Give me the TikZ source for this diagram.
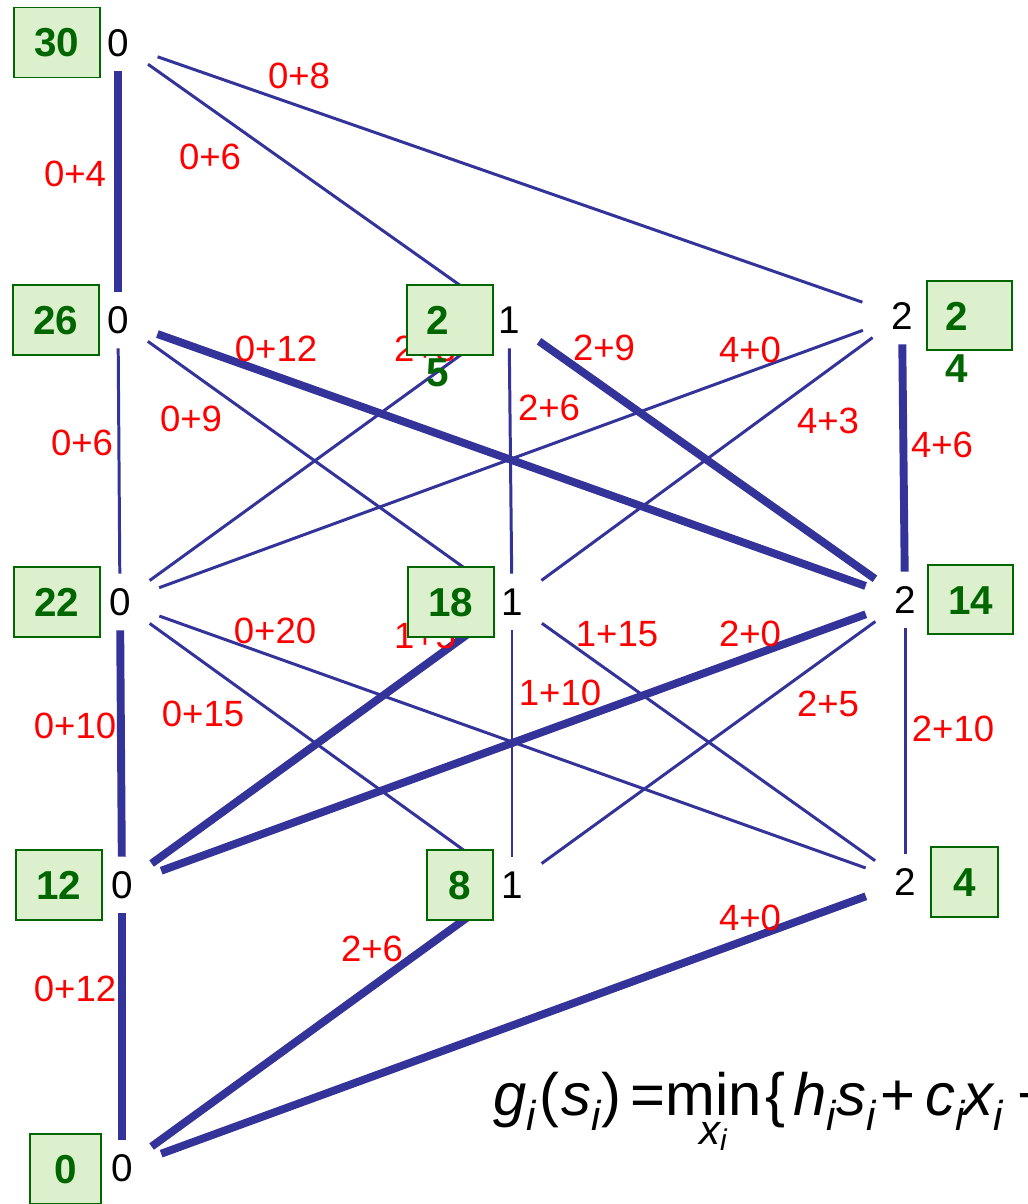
\documentclass[tikz,border=0pt]{standalone}
\usepackage{amsmath}
\usepackage{fontspec}
\setmainfont{Liberation Sans}
\usepackage{tikz}
\usetikzlibrary{shapes.geometric}
\definecolor{edgeblue}{RGB}{51,51,153}
\definecolor{boxgreen}{RGB}{0,102,0}
\definecolor{boxfill}{RGB}{221,240,206}
\newcommand{\itv}[1]{\text{\itshape #1}}
\newcommand{\fpart}[2]{\makebox[#1][l]{#2}}

\begin{document}
\begin{tikzpicture}[
    x=0.02cm, y=-0.02cm,
    state/.style={ellipse, minimum width=1.8cm, minimum height=1.12cm, inner sep=0pt,
                  font=\fontsize{22}{26}\selectfont, text height=15.7pt, text depth=0pt},
    valbox/.style={rectangle, draw=boxgreen, line width=1.1pt, fill=boxfill, text=boxgreen,
                   font=\fontsize{23}{29.6}\selectfont\bfseries, minimum width=1.72cm,
                   minimum height=1.4cm, inner sep=0pt, text height=16.5pt, text depth=0pt},
    wrapbox/.style={valbox, align=left, text width=0.95cm},
    cost/.style={text=red, font=\fontsize{20.8}{25}\selectfont, inner sep=0pt,
                 text height=14.9pt, text depth=0pt},
    link/.style={draw=edgeblue, line width=1.7pt},
    bestlink/.style={draw=edgeblue, line width=4.5pt},
    formula/.style={font=\fontsize{34}{40}\selectfont, inner sep=0pt}
]
\useasboundingbox (0,0) rectangle (1028,1204);
\clip (0,0) rectangle (1028,1204);

\node[state] (A0) at (118,43) {0};
\node[state] (B0) at (118,320) {0};
\node[state] (B1) at (509,320) {1};
\node[state] (B2) at (902,316) {2};
\node[state] (C0) at (120,602) {0};
\node[state] (C1) at (512,602) {1};
\node[state] (C2) at (905,600) {2};
\node[state] (D0) at (122,885) {0};
\node[state] (D1) at (512,885) {1};
\node[state] (D2) at (905,882) {2};
\node[state] (E0) at (122,1168) {0};

\draw[bestlink] (A0) -- (B0);
\draw[link] (A0) -- (B1);
\draw[link] (A0) -- (B2);
\draw[link] (B0) -- (C0);
\draw[link] (B0) -- (C1);
\draw[bestlink] (B0) -- (C2);
\draw[link] (B1) -- (C0);
\draw[link] (B1) -- (C1);
\draw[bestlink] (B1) -- (C2);
\draw[link] (B2) -- (C0);
\draw[link] (B2) -- (C1);
\draw[bestlink] (B2) -- (C2);
\draw[bestlink] (C0) -- (D0);
\draw[link] (C0) -- (D1);
\draw[link] (C0) -- (D2);
\draw[bestlink] (C1) -- (D0);
\draw[link] (C1) -- (D1);
\draw[link] (C1) -- (D2);
\draw[bestlink] (C2) -- (D0);
\draw[link] (C2) -- (D1);
\draw[link] (C2) -- (D2);
\draw[bestlink] (D0) -- (E0);
\draw[bestlink] (D1) -- (E0);
\draw[bestlink] (D2) -- (E0);

\node[cost] (lA0B2) at (299,75) {0+8};
\node[cost] (lA0B1) at (210,156) {0+6};
\node[cost] (lA0B0) at (75,173) {0+4};
\node[cost] (lB0C2) at (276,348) {0+12};
\node[cost] (lB1C0) at (425,348) {2+3};
\node[cost] (lB1C2) at (604,347) {2+9};
\node[cost] (lB2C0) at (750,349) {4+0};
\node[cost] (lB0C1) at (191,418) {0+9};
\node[cost] (lB1C1) at (549,407) {2+6};
\node[cost] (lB2C1) at (828,420) {4+3};
\node[cost] (lB0C0) at (82,442) {0+6};
\node[cost] (lB2C2) at (942,444) {4+6};
\node[cost] (lC0D2) at (275,630) {0+20};
\node[cost] (lC1D0) at (425,635) {1+5};
\node[cost] (lC1D2) at (617,633) {1+15};
\node[cost] (lC2D0) at (750,633) {2+0};
\node[cost] (lC1D1) at (560,692) {1+10};
\node[cost] (lC2D1) at (828,703) {2+5};
\node[cost] (lC0D0) at (75,725) {0+10};
\node[cost] (lC0D1) at (203,713) {0+15};
\node[cost] (lC2D2) at (953,728) {2+10};
\node[cost] (lD1E0) at (372,948) {2+6};
\node[cost] (lD2E0) at (750,917) {4+0};
\node[cost] (lD0E0) at (75,988) {0+12};

\node[valbox] (gA0) at (57,42.5) {30};
\node[valbox] (gB0) at (56,320) {26};
\node[wrapbox] (gB1) at (450,320) {2\\5};
\node[wrapbox, minimum width=1.7cm, minimum height=1.38cm] (gB2) at (969.5,315.5) {2\\4};
\node[valbox] (gC0) at (57,602) {22};
\node[valbox] (gC1) at (451,602) {18};
\node[valbox, minimum width=1.7cm, minimum height=1.38cm] (gC2) at (970.5,599.5) {14};
\node[valbox] (gD0) at (59,885) {12};
\node[valbox, minimum width=1.32cm] (gD1) at (460,885) {8};
\node[valbox, minimum width=1.34cm] (gD2) at (964.5,882) {4};
\node[valbox, minimum width=1.42cm] (gE0) at (65.5,1169) {0};

\node[formula, anchor=base west] (gform) at (493,1115)
    {\fpart{0.92cm}{$\itv{g}_{\itv{i}}$}%
     \fpart{0.44cm}{(}%
     \fpart{0.8cm}{$\itv{s}_{\itv{i}}$}%
     \fpart{0.58cm}{)}%
     \fpart{0.7cm}{=}%
     \fpart{2cm}{$\mathop{\text{min}}\limits_{\itv{x}_{\itv{i}}}$}%
     \fpart{0.56cm}{\{}%
     \fpart{1.74cm}{$\itv{h}_{\itv{i}}\itv{s}_{\itv{i}}$}%
     \fpart{0.9cm}{+}%
     \fpart{0.76cm}{$\itv{c}_{\itv{i}}$}%
     \fpart{1.08cm}{$\itv{x}_{\itv{i}}$}%
     +};
\end{tikzpicture}
\end{document}
